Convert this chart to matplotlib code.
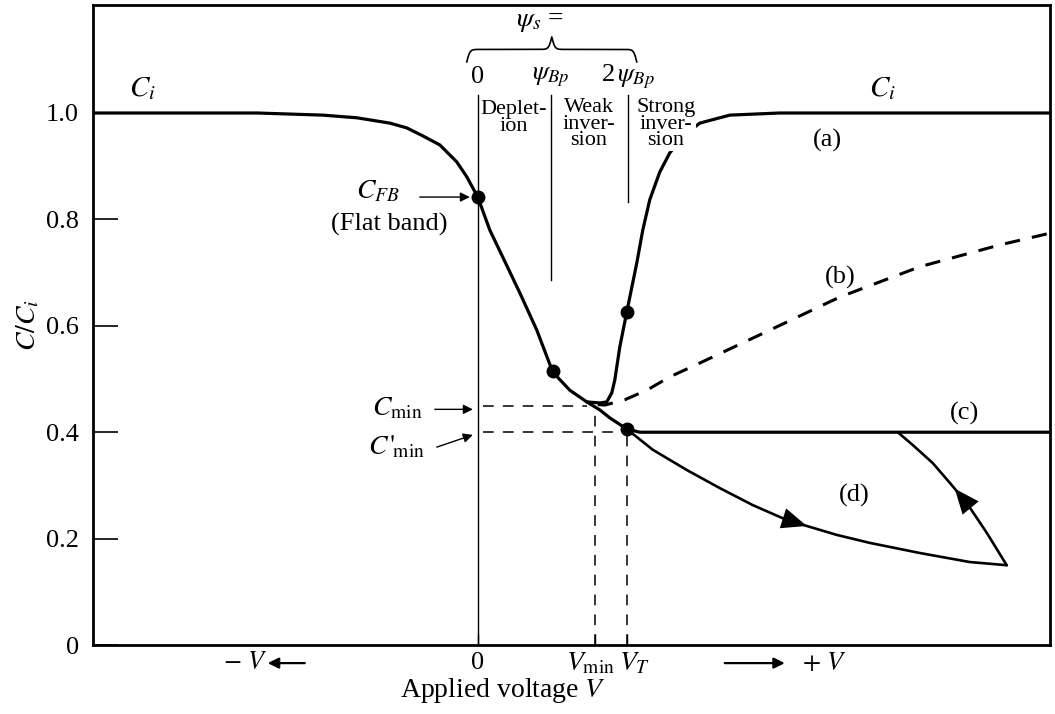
import numpy as np
import matplotlib.pyplot as plt

plt.rcParams['font.family'] = ['Liberation Serif', 'DejaVu Serif']
plt.rcParams['mathtext.fontset'] = 'stix'

# applied voltage in arbitrary units (0 = flat band), capacitance as C/Ci
v_common = [-3.85, -2.21, -1.88, -1.55, -1.21, -0.88, -0.71, -0.55, -0.38, -0.21,
            -0.11, 0.0, 0.12, 0.25, 0.42, 0.59, 0.75, 0.92, 1.09]
c_common = [1.0, 1.0, 0.998, 0.996, 0.991, 0.981, 0.972, 0.957, 0.940, 0.908,
            0.880, 0.842, 0.780, 0.729, 0.662, 0.592, 0.513, 0.479, 0.457]

# (a) low frequency
v_a = [1.09, 1.22, 1.29, 1.34, 1.37, 1.42, 1.49, 1.59, 1.65, 1.72, 1.82,
       1.92, 2.07, 2.22, 2.52, 3.02, 5.72]
c_a = [0.457, 0.455, 0.457, 0.474, 0.498, 0.560, 0.626, 0.718, 0.780, 0.837,
       0.889, 0.925, 0.959, 0.981, 0.996, 1.0, 1.0]

# (b) intermediate frequency
v_b = [1.20, 1.27, 1.47, 1.69, 1.92, 2.22, 2.82, 3.62, 4.42, 5.22, 5.72]
c_b = [0.452, 0.451, 0.461, 0.479, 0.504, 0.530, 0.583, 0.654, 0.711, 0.752, 0.774]

# (c) high frequency
v_c = [1.09, 1.22, 1.32, 1.49, 1.62, 5.72]
c_c = [0.457, 0.442, 0.427, 0.406, 0.40, 0.40]

# (d) deep depletion and its relaxation back to (c)
v_d = [1.49, 1.75, 2.09, 2.42, 2.75, 3.09, 3.59, 3.92, 4.42, 4.92, 5.29]
c_d = [0.406, 0.367, 0.329, 0.295, 0.263, 0.235, 0.207, 0.192, 0.173, 0.156, 0.150]
v_ret = [5.29, 5.09, 4.89, 4.72, 4.55, 4.35, 4.20]
c_ret = [0.150, 0.211, 0.267, 0.305, 0.342, 0.376, 0.400]

# marked points
v_dots = [0.0, 0.75, 1.49, 1.49]
c_dots = [0.842, 0.515, 0.626, 0.406]

V_FB, V_BP, V_2BP = 0.0, 0.73, 1.50
V_MIN, V_T = 1.17, 1.49
C_FB, C_MIN, C_MIN2 = 0.842, 0.45, 0.40

yticks = [0, 0.2, 0.4, 0.6, 0.8, 1.0]
ytick_labels = ['0', '0.2', '0.4', '0.6', '0.8', '1.0']


def draw_brace(ax, x0, x1, y_end, height):
    xs = np.linspace(x0, x1, 401)
    half = xs[:201]
    k = 110.0 / (x1 - x0)
    yh = 1 / (1 + np.exp(-k * (half - half[0]))) + 1 / (1 + np.exp(-k * (half - half[-1])))
    yb = np.concatenate([yh, yh[-2::-1]])
    ax.plot(xs, y_end + (yb - 0.5) * height, color='k', lw=1.2, clip_on=False)


fig = plt.figure(figsize=(10.55, 7.14), dpi=100)
ax = fig.add_axes([0.088, 0.0966, 0.907, 0.8964])
ax.set_xlim(-3.85, 5.72)
ax.set_ylim(0, 1.203)

for s in ax.spines.values():
    s.set_linewidth(2.0)

ax.set_yticks(yticks)
ax.set_yticklabels(ytick_labels, fontsize=19)
ax.tick_params(axis='y', direction='in', length=18, width=1.2, pad=10)
ax.set_xticks([V_FB, V_MIN, V_T])
ax.set_xticklabels(['', '', ''])
ax.tick_params(axis='x', direction='in', length=8, width=1.0)

# curves
line = dict(color='k', solid_joinstyle='round', solid_capstyle='round')
ax.plot(v_common, c_common, lw=2.3, **line)
ax.plot(v_a, c_a, lw=2.3, **line)
ax.plot(v_b, c_b, color='k', lw=2.2, dashes=(5, 4))
ax.plot(v_c, c_c, lw=2.3, **line)
ax.plot(v_d, c_d, lw=1.9, **line)
ax.plot(v_ret, c_ret, lw=1.9, **line)
ax.plot(v_dots, c_dots, 'o', color='k', ms=9, zorder=5)

# direction arrows
arr = dict(arrowstyle='-|>,head_length=0.6,head_width=0.25', mutation_scale=30, lw=0,
           color='k', shrinkA=0, shrinkB=0)
ax.annotate('', xy=(3.29, np.interp(3.29, v_d, c_d)),
            xytext=(3.05, np.interp(3.05, v_d, c_d)), arrowprops=arr)
ax.annotate('', xy=(4.77, np.interp(4.77, v_ret[::-1], c_ret[::-1])),
            xytext=(4.90, np.interp(4.90, v_ret[::-1], c_ret[::-1])), arrowprops=arr)

# region separators
ax.plot([V_FB, V_FB], [0, 1.034], color='k', lw=1.0)
ax.plot([V_BP, V_BP], [0.686, 1.034], color='k', lw=1.0)
ax.plot([V_2BP, V_2BP], [0.833, 1.034], color='k', lw=1.0)

# Cmin guides
ax.plot([0.05, 1.09], [C_MIN, C_MIN], color='k', lw=1.1, dashes=(7, 6))
ax.plot([0.05, 1.45], [C_MIN2, C_MIN2], color='k', lw=1.1, dashes=(7, 6))
ax.plot([V_MIN, V_MIN], [0, C_MIN], color='k', lw=1.1, dashes=(7, 6))
ax.plot([V_T, V_T], [0, C_MIN2], color='k', lw=1.1, dashes=(7, 6))

# brace and surface potential labels
draw_brace(ax, -0.11, 1.59, 1.096, 0.047)
ax.text(0.62, 1.172, r'$\psi_s$ =', fontsize=20, ha='center', va='center')
ax.text(V_FB, 1.068, '0', fontsize=19, ha='center', va='center')
ax.text(V_BP, 1.068, r'$\psi_{Bp}$', fontsize=19, ha='center', va='center')
ax.text(V_2BP, 1.068, r'2$\,\psi_{Bp}$', fontsize=19, ha='center', va='center')

box = dict(facecolor='white', edgecolor='none', pad=0.5)
ax.text(0.36, 0.991, 'Deplet-\nion', fontsize=16, ha='center', va='center',
        linespacing=0.82, bbox=box, zorder=6)
ax.text(1.11, 0.979, 'Weak\ninver-\nsion', fontsize=16, ha='center', va='center',
        linespacing=0.82, bbox=box, zorder=6)
ax.text(1.88, 0.979, 'Strong\ninver-\nsion', fontsize=16, ha='center', va='center',
        linespacing=0.82, bbox=box, zorder=6)

# curve labels
ax.text(-3.35, 1.045, r'$C_i$', fontsize=21, ha='center', va='center')
ax.text(4.05, 1.045, r'$C_i$', fontsize=21, ha='center', va='center')
ax.text(3.5, 0.949, '(a)', fontsize=19, ha='center', va='center')
ax.text(3.62, 0.69, '(b)', fontsize=19, ha='center', va='center')
ax.text(4.87, 0.436, '(c)', fontsize=19, ha='center', va='center')
ax.text(3.77, 0.282, '(d)', fontsize=19, ha='center', va='center')

# capacitance callouts
thin = dict(arrowstyle='-|>', mutation_scale=14, lw=1.0, color='k', shrinkA=0, shrinkB=0)
ax.text(-1.0, 0.852, r'$C_{FB}$', fontsize=20, ha='center', va='center')
ax.annotate('', xy=(-0.08, C_FB), xytext=(-0.58, C_FB), arrowprops=thin)
ax.text(-0.89, 0.79, '(Flat band)', fontsize=19, ha='center', va='center')
ax.text(-0.81, 0.444, r'$C_{\min}$', fontsize=20, ha='center', va='center')
ax.annotate('', xy=(-0.05, 0.443), xytext=(-0.43, 0.443), arrowprops=thin)
ax.text(-0.81, 0.372, r"$C\,'_{\!\min}$", fontsize=20, ha='center', va='center')
ax.annotate('', xy=(-0.05, 0.395), xytext=(-0.41, 0.372), arrowprops=thin)

# voltage axis labels
yb = -0.034
ax.text(V_FB, yb, '0', fontsize=19, ha='center', va='center', clip_on=False)
ax.text(1.37, yb, r'$V_{\min}$', fontsize=20, ha='right', va='center')
ax.text(1.41, yb, r'$V_T$', fontsize=20, ha='left', va='center')
ax.text(-2.33, yb, r'$-\ V$', fontsize=19, ha='center', va='center')
ax.annotate('', xy=(-2.10, yb), xytext=(-1.73, yb), annotation_clip=False,
            arrowprops=dict(arrowstyle='-|>', mutation_scale=16, lw=1.6, color='k',
                            shrinkA=0, shrinkB=0))
ax.annotate('', xy=(3.07, yb), xytext=(2.47, yb), annotation_clip=False,
            arrowprops=dict(arrowstyle='-|>', mutation_scale=16, lw=1.6, color='k',
                            shrinkA=0, shrinkB=0))
ax.text(3.47, yb, r'$+\ V$', fontsize=19, ha='center', va='center')
ax.text(0.25, -0.085, r'Applied voltage $V$', fontsize=20, ha='center', va='center')
ax.set_ylabel(r'$C/C_i$', fontsize=20, labelpad=3)

fig.savefig('out.png', dpi=100)
